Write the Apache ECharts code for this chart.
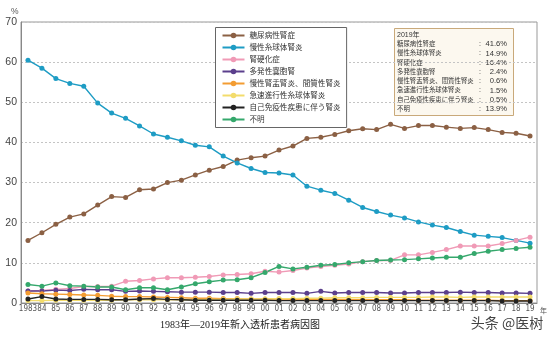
<!DOCTYPE html>
<html>
<head>
<meta charset="utf-8">
<script src="https://cdn.jsdelivr.net/npm/echarts@6/dist/echarts.min.js"></script>
<style>
  html, body { margin: 0; padding: 0; background: #fff; }
  #chart { width: 554px; height: 342px; }
</style>
</head>
<body>
<div id="chart"></div>
<script>
// Year tick labels, 1983–2019
const yearLabels = ['1983','84','85','86','87','88','89','90','91','92','93','94','95','96','97','98','99',
  '00','01','02','03','04','05','06','07','08','09','10','11','12','13','14','15','16','17','18','19'];

// Share of new dialysis patients by primary disease (%)
const diabetic = [15.6,17.5,19.6,21.4,22.2,24.4,26.5,26.3,28.2,28.4,30.0,30.6,31.9,33.1,34.0,35.6,36.2,
  36.6,38.1,39.1,41.0,41.3,42.0,42.9,43.4,43.2,44.5,43.5,44.2,44.2,43.8,43.5,43.7,43.2,42.5,42.3,41.6];
const glomerulo = [60.5,58.5,55.9,54.7,54.0,49.8,47.3,46.0,44.1,42.1,41.3,40.4,39.3,38.9,36.6,34.9,33.5,
  32.5,32.4,31.9,29.1,28.1,27.3,25.6,23.8,22.8,21.9,21.2,20.2,19.4,18.8,17.8,16.9,16.6,16.3,15.6,14.9];
const nephrosclerosis = [3.0,3.1,3.4,3.6,4.1,4.1,4.2,5.4,5.6,6.0,6.3,6.3,6.4,6.6,7.0,7.1,7.3,
  7.9,7.7,8.1,8.7,9.1,9.4,9.7,10.3,10.6,10.6,12.0,12.0,12.6,13.3,14.2,14.2,14.2,14.8,15.6,16.4];
const polycystic = [3.0,3.0,3.2,3.1,3.4,3.3,3.3,2.9,3.0,2.9,2.8,2.7,2.7,2.7,2.6,2.6,2.4,
  2.6,2.6,2.6,2.4,2.9,2.5,2.6,2.6,2.6,2.5,2.5,2.6,2.6,2.6,2.7,2.6,2.6,2.5,2.5,2.4];
const pyelonephritis = [2.5,2.3,2.2,2.1,2.0,1.9,1.7,1.6,1.6,1.5,1.4,1.3,1.2,1.2,1.1,1.1,1.0,
  1.0,1.0,0.9,0.9,0.9,0.9,0.8,0.8,0.8,0.8,0.8,0.7,0.7,0.7,0.7,0.7,0.7,0.6,0.6,0.6];
const rpgn = [0.6,0.6,0.7,0.7,0.7,0.7,0.7,0.8,0.8,0.8,0.8,0.8,0.8,0.9,0.9,1.0,1.0,
  1.0,1.1,1.1,1.2,1.2,1.3,1.3,1.3,1.4,1.4,1.4,1.4,1.5,1.5,1.4,1.5,1.5,1.5,1.5,1.5];
const autoimmune = [1.0,1.6,1.0,0.9,0.9,0.9,0.8,0.8,1.0,1.1,0.9,0.8,0.7,0.7,0.7,0.7,0.7,
  0.7,0.6,0.6,0.6,0.6,0.6,0.6,0.6,0.6,0.6,0.6,0.6,0.6,0.6,0.6,0.6,0.6,0.5,0.5,0.5];
const unknown = [4.6,4.2,5.0,4.3,4.2,4.0,4.0,3.3,3.8,3.8,3.3,4.0,4.8,5.3,5.7,5.8,6.3,
  7.6,9.1,8.5,8.9,9.4,9.6,10.0,10.3,10.6,10.7,10.8,11.0,11.2,11.4,11.4,12.3,12.9,13.3,13.6,13.9];

const seriesDefs = [
  { name: '糖尿病性腎症', data: diabetic, color: '#8b6044' },
  { name: '慢性糸球体腎炎', data: glomerulo, color: '#1e9cc4' },
  { name: '腎硬化症', data: nephrosclerosis, color: '#f09ab6' },
  { name: '多発性嚢胞腎', data: polycystic, color: '#5b3f8c' },
  { name: '慢性腎盂腎炎、間質性腎炎', data: pyelonephritis, color: '#f39c32' },
  { name: '急速進行性糸球体腎炎', data: rpgn, color: '#f3dc6c' },
  { name: '自己免疫性疾患に伴う腎炎', data: autoimmune, color: '#222222' },
  { name: '不明', data: unknown, color: '#35a86c' }
];

const FONT = '"Liberation Sans", "Noto Sans CJK JP", sans-serif';
const chart = echarts.init(document.getElementById('chart'));

// 2019 summary box
const boxX = 394.5, boxY = 28.5, boxW = 119, boxH = 87;
const rowY0 = 44.3, rowStep = 9.25;
const summary = [
  { type: 'rect', shape: { x: boxX, y: boxY, width: boxW, height: boxH },
    style: { fill: '#fcf8ef', stroke: '#c9a97a', lineWidth: 1 } },
  { type: 'text', x: 397, y: 35, style: { text: '2019年', fill: '#333',
    font: '7px ' + FONT, textVerticalAlign: 'middle' } }
];
seriesDefs.forEach((s, i) => {
  const y = rowY0 + i * rowStep;
  const last = s.data[s.data.length - 1];
  summary.push({ type: 'text', x: 397, y: y, style: { text: s.name, font: '6.4px ' + FONT,
    fill: '#333', textVerticalAlign: 'middle' } });
  summary.push({ type: 'text', x: 479, y: y, style: { text: ':', font: '7px ' + FONT,
    fill: '#333', textVerticalAlign: 'middle' } });
  summary.push({ type: 'text', x: 507, y: y, style: { text: last.toFixed(1) + '%', font: '7.6px ' + FONT,
    fill: '#333', textAlign: 'right', textVerticalAlign: 'middle' } });
});

chart.setOption({
  animation: false,
  backgroundColor: '#fff',
  textStyle: { fontFamily: FONT },
  grid: { left: 21, right: 17, top: 22, bottom: 39, show: true, borderColor: '#999', borderWidth: 1 },
  legend: {
    orient: 'vertical', left: 215.5, top: 27.5,
    padding: [2, 6, 2, 6], itemGap: 0, itemWidth: 22, itemHeight: 7,
    backgroundColor: '#fff', borderColor: '#666', borderWidth: 1,
    textStyle: { fontSize: 7.6, lineHeight: 12, color: '#333', fontFamily: FONT },
    data: seriesDefs.map(s => s.name)
  },
  xAxis: {
    type: 'category', data: yearLabels, boundaryGap: true,
    axisLine: { lineStyle: { color: '#888' } },
    axisTick: { show: false },
    axisLabel: { interval: 0, fontSize: 8, color: '#555', margin: 2, hideOverlap: false,
      fontFamily: '"Liberation Sans Narrow", "DejaVu Sans Condensed", "Liberation Sans", sans-serif' }
  },
  yAxis: {
    type: 'value', min: 0, max: 70, interval: 10,
    axisLine: { show: true, lineStyle: { color: '#888' } },
    axisTick: { show: false },
    axisLabel: { fontSize: 10.5, color: '#444', margin: 4 },
    splitLine: { lineStyle: { color: '#c4c4c4', type: [2, 2] } }
  },
  series: seriesDefs.map(s => ({
    name: s.name, type: 'line', data: s.data,
    symbol: 'circle', symbolSize: 5,
    itemStyle: { color: s.color },
    lineStyle: { color: s.color, width: 1.4 }
  })),
  graphic: [
    { type: 'text', x: 11, y: 7, style: { text: '%', font: '8.5px ' + FONT, fill: '#555' } },
    { type: 'text', x: 540, y: 311, style: { text: '年', font: '7px ' + FONT, fill: '#555',
      textVerticalAlign: 'middle' } },
    { type: 'text', x: 240, y: 325, style: { text: '1983年—2019年新入透析患者病因图',
      font: '10px "Liberation Serif", "Noto Sans CJK SC", serif', fill: '#222',
      textAlign: 'center', textVerticalAlign: 'middle' } },
    { type: 'text', x: 507, y: 323, style: { text: '头条 @医树',
      font: '14px "Noto Sans CJK SC", sans-serif', fill: '#444',
      textAlign: 'center', textVerticalAlign: 'middle' } }
  ].concat(summary)
});
</script>
</body>
</html>
